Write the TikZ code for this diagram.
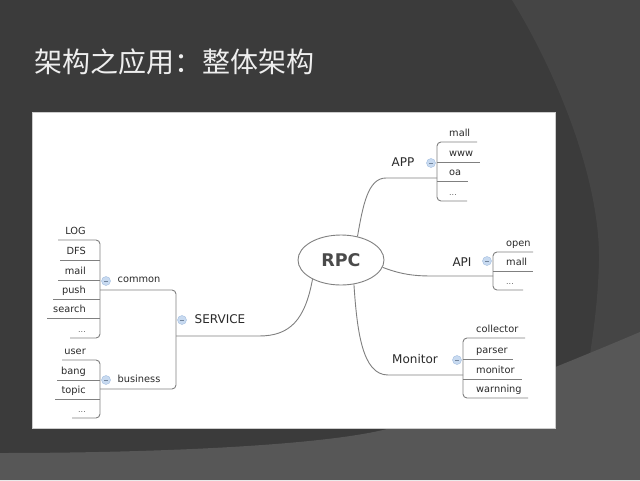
\documentclass[tikz,border=0pt]{standalone}
\usepackage{fontspec}
\setmainfont{DejaVu Sans}
\newfontfamily\cjk{Noto Sans CJK SC}
\usetikzlibrary{shapes.geometric}
\definecolor{bgmain}{HTML}{3B3B3B}
\definecolor{bgarc}{HTML}{454545}
\definecolor{bgbot}{HTML}{575757}
\definecolor{linec}{HTML}{808080}
\definecolor{txt}{HTML}{2A2A2A}
\definecolor{dotc}{HTML}{666666}
\definecolor{titlec}{HTML}{EEEEEE}
\definecolor{cfill}{HTML}{C8DAF0}
\definecolor{cdraw}{HTML}{A3BEE0}
\newcommand{\rgtleaf}[3]{\node[leaf, anchor=base west] (#1) at (#2) {#3};}
\newcommand{\lftleaf}[3]{\node[leaf, anchor=base east] (#1) at (#2) {#3};}
\begin{document}
\begin{tikzpicture}[x=1pt,y=-1pt,
  leaf/.style={font=\fontsize{9.8}{11}\selectfont, text=txt, inner sep=0pt},
  dots/.style={leaf, text=dotc, font=\fontsize{8}{10}\selectfont},
  branch/.style={font=\fontsize{12}{14}\selectfont, text=txt, inner sep=0pt},
  conn/.style={draw=linec, line width=0.9pt, rounded corners=4pt},
  toggle/.style={circle, fill=cfill, draw=cdraw, line width=0.4pt, minimum size=9pt, inner sep=0pt,
    path picture={\draw[cdraw!70!black, line width=0.5pt]
      ([xshift=-2pt]path picture bounding box.center) -- ([xshift=2pt]path picture bounding box.center);}},
]
\useasboundingbox (0,0) rectangle (640,480);
% background
\fill[bgmain] (0,0) rectangle (640,480);
\fill[bgarc] (512,0) .. controls (558,75) and (600,180) .. (599,260)
  .. controls (598,300) and (594,330) .. (586,380) -- (640,380) -- (640,0) -- cycle;
\fill[bgbot] (0,453) .. controls (150,453) and (320,446) .. (387,429)
  .. controls (450,410) and (560,366) .. (640,332) -- (640,480) -- (0,480) -- cycle;
% title
\node[anchor=west, text=titlec, font=\cjk\fontsize{28}{32}\selectfont, inner sep=0pt] (title) at (34,62) {架构之应用：整体架构};
% panel
\fill[white, draw=black!20, line width=0.5pt] (32,112) rectangle (555,428);

% central node
\node[ellipse, draw=linec, line width=0.9pt, fill=white, minimum width=86pt, minimum height=50pt, inner sep=0pt,
  text=txt!85!white, font=\bfseries\fontsize{17.5}{19}\selectfont] (rpc) at (341,260) {RPC};

% junction coordinates
\coordinate (appj) at (437,178);
\coordinate (apij) at (493,276);
\coordinate (monj) at (463,375);
\coordinate (servj) at (176,336);

% main connectors
\draw[conn] (rpc.55) .. controls (363,205) and (368,178) .. (390,178) -- (appj);
\draw[conn] (rpc.-10) .. controls (405,276) and (420,276) .. (440,276) -- (apij);
\draw[conn] (rpc.-62) .. controls (357,330) and (362,375) .. (392,375) -- (monj);
\draw[conn] (rpc.214) .. controls (305,320) and (290,336) .. (255,336) -- (servj);

% branch labels
\node[branch] (app) at (403,162) {APP};
\node[branch] (api) at (462,262) {API};
\node[branch] (monitor) at (415,359) {Monitor};
\node[branch] (service) at (220,319) {SERVICE};
\node[leaf] (common) at (139,280) {common};
\node[leaf] (business) at (139,379) {business};

% toggles
\node[toggle] (tapp) at (431,163) {};
\node[toggle] (tapi) at (487,261) {};
\node[toggle] (tmon) at (457,360) {};
\node[toggle] (tserv) at (182,320) {};
\node[toggle] (tcom) at (106,281) {};
\node[toggle] (tbus) at (106,380) {};

% APP group
\draw[conn] (477,142) -- (437,142) -- (437,201) -- (467,201);
\draw[conn] (437,162) -- (480,162);
\draw[conn] (437,181) -- (468,181);
\rgtleaf{mall1}{449,136}{mall}
\rgtleaf{www}{449,156}{www}
\rgtleaf{oa}{449,175}{oa}
\node[dots, anchor=base west] (dots1) at (449,195) {...};

% API group
\draw[conn] (533,252) -- (493,252) -- (493,290) -- (523,290);
\draw[conn] (493,271) -- (533,271);
\rgtleaf{open}{506,246}{open}
\rgtleaf{mall2}{506,265}{mall}
\node[dots, anchor=base west] (dots2) at (506,284) {...};

% Monitor group
\draw[conn] (525,338) -- (463,338) -- (463,398) -- (528,398);
\draw[conn] (463,359) -- (513,359);
\draw[conn] (463,379) -- (522,379);
\rgtleaf{collector}{476,332}{collector}
\rgtleaf{parser}{476,353}{parser}
\rgtleaf{monitorl}{476,373}{monitor}
\rgtleaf{warnning}{476,392}{warnning}

% SERVICE bracket
\coordinate (comj) at (100,290);
\coordinate (busj) at (100,389);
\draw[conn] (comj) -- (176,290) -- (176,389) -- (busj);

% common group
\draw[conn] (58,240) -- (100,240) -- (100,338) -- (70,338);
\draw[conn] (60,260) -- (100,260);
\draw[conn] (58,280) -- (100,280);
\draw[conn] (53,299) -- (100,299);
\draw[conn] (47,318) -- (100,318);
\lftleaf{log}{86,234}{LOG}
\lftleaf{dfs}{86,254}{DFS}
\lftleaf{mail}{86,274}{mail}
\lftleaf{push}{86,293}{push}
\lftleaf{search}{86,312}{search}
\node[dots, anchor=base east] (dots3) at (86,332) {...};

% business group
\draw[conn] (62,360) -- (100,360) -- (100,418) -- (72,418);
\draw[conn] (57,380) -- (100,380);
\draw[conn] (55,399) -- (100,399);
\lftleaf{user}{86,354}{user}
\lftleaf{bang}{86,374}{bang}
\lftleaf{topic}{86,393}{topic}
\node[dots, anchor=base east] (dots4) at (86,412) {...};
\end{tikzpicture}
\end{document}
